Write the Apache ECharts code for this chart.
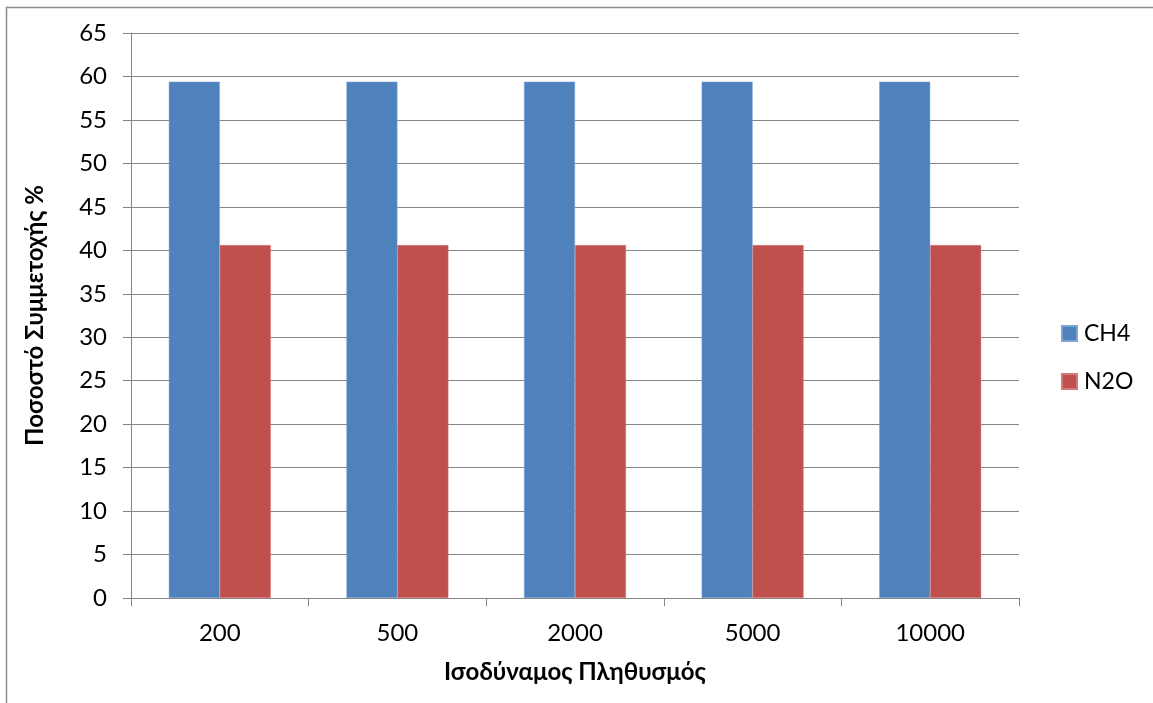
<!DOCTYPE html>
<html>
<head>
<meta charset="utf-8">
<script src="https://cdn.jsdelivr.net/npm/echarts@6/dist/echarts.min.js"></script>
<style>
  html, body { margin: 0; padding: 0; background: #fff; }
  #chart { width: 1153px; height: 703px; }
</style>
</head>
<body>
<div id="chart"></div>
<script>
// Equivalent population sizes (x categories)
const categories = ['200', '500', '2000', '5000', '10000'];
// Participation share per gas, %
const ch4Values = [59.4, 59.4, 59.4, 59.4, 59.4];
const n2oValues = [40.6, 40.6, 40.6, 40.6, 40.6];
const seriesNames = ['CH4', 'N2O'];
const xTitle = 'Ισοδύναμος Πληθυσμός';
const yTitle = 'Ποσοστό Συμμετοχής %';

const FONT = 'Lato, "Open Sans", sans-serif';
const GRID_GREY = '#868686';

const chart = echarts.init(document.getElementById('chart'), null, { renderer: 'canvas' });

chart.setOption({
  backgroundColor: '#ffffff',
  animation: false,
  textStyle: { fontFamily: FONT },
  graphic: [{
    type: 'rect',
    shape: { x: 6.5, y: 7.5, width: 1300, height: 900 },
    style: { fill: 'none', stroke: '#8c8c8c', lineWidth: 1.5 },
    silent: true
  }],
  grid: { left: 131, right: 134, top: 33, bottom: 105, containLabel: false },
  legend: {
    orient: 'vertical',
    left: 1061,
    top: 322,
    padding: 0,
    itemWidth: 15,
    itemHeight: 15,
    itemGap: 25,
    icon: 'rect',
    textStyle: { fontFamily: FONT, fontSize: 23, color: '#000', padding: [0, 0, 0, 2] },
    data: seriesNames
  },
  xAxis: {
    type: 'category',
    data: categories,
    name: xTitle,
    nameLocation: 'middle',
    nameGap: 62,
    nameTextStyle: { fontFamily: FONT, fontSize: 24, fontWeight: 'bold', color: '#000' },
    axisLine: { show: true, lineStyle: { color: GRID_GREY, width: 1 } },
    axisTick: { show: true, length: 8, lineStyle: { color: GRID_GREY } },
    axisLabel: { fontFamily: FONT, fontSize: 24, color: '#000', margin: 23 },
    splitLine: { show: false }
  },
  yAxis: {
    type: 'value',
    min: 0,
    max: 65,
    interval: 5,
    name: yTitle,
    nameLocation: 'middle',
    nameGap: 84,
    nameRotate: 90,
    nameTextStyle: { fontFamily: FONT, fontSize: 24, fontWeight: 'bold', color: '#000' },
    axisLine: { show: true, lineStyle: { color: GRID_GREY, width: 1 } },
    axisTick: { show: true, length: 8, lineStyle: { color: GRID_GREY } },
    axisLabel: { fontFamily: FONT, fontSize: 24, color: '#000', margin: 24 },
    splitLine: { show: true, lineStyle: { color: GRID_GREY, width: 1 } }
  },
  series: [
    {
      name: seriesNames[0],
      type: 'bar',
      data: ch4Values,
      barGap: '0%',
      barCategoryGap: '42.6%',
      itemStyle: { color: '#4F81BD', borderColor: '#7fa3d4', borderWidth: 0.5 }
    },
    {
      name: seriesNames[1],
      type: 'bar',
      data: n2oValues,
      barGap: '0%',
      barCategoryGap: '42.6%',
      itemStyle: { color: '#C0504D', borderColor: '#d47a78', borderWidth: 0.5 }
    }
  ]
});
</script>
</body>
</html>
